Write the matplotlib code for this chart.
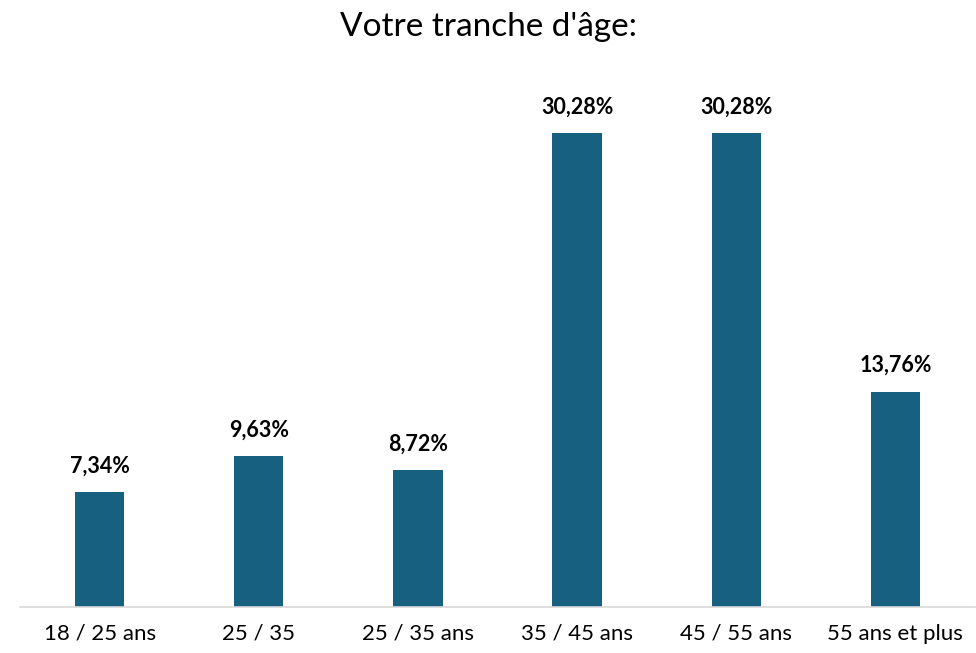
import matplotlib
matplotlib.use('Agg')
import matplotlib.pyplot as plt

categories = ['18 / 25 ans', '25 / 35', '25 / 35 ans', '35 / 45 ans', '45 / 55 ans', '55 ans et plus']
values = [7.34, 9.63, 8.72, 30.28, 30.28, 13.76]
labels = ['7,34%', '9,63%', '8,72%', '30,28%', '30,28%', '13,76%']

plt.rcParams['font.family'] = ['Lato', 'DejaVu Sans']

fig = plt.figure(figsize=(9.76, 6.53), dpi=100)
ax = fig.add_axes([20 / 976, 46 / 653, 955 / 976, 548 / 653])

x = range(len(categories))
bars = ax.bar(x, values, width=0.31, color='#17607F')

for bar, lab in zip(bars, labels):
    ax.text(bar.get_x() + bar.get_width() / 2, bar.get_height() + 1.0, lab,
            ha='center', va='bottom', fontsize=15.5, fontweight='bold', color='black')

ax.set_xlim(-0.5, 5.5)
ax.set_ylim(0, 35)
ax.set_xticks(list(x))
ax.set_xticklabels(categories, fontsize=16)
ax.tick_params(axis='x', length=0, pad=12)
ax.set_yticks([])
for side in ['top', 'right', 'left']:
    ax.spines[side].set_visible(False)
ax.spines['bottom'].set_color('#D9D9D9')
ax.spines['bottom'].set_linewidth(1.2)

fig.text(0.5, 1 - 27 / 653, "Votre tranche d'âge:", ha='center', va='center', fontsize=24)

plt.savefig('out.png', dpi=100, facecolor='white')
plt.close()
